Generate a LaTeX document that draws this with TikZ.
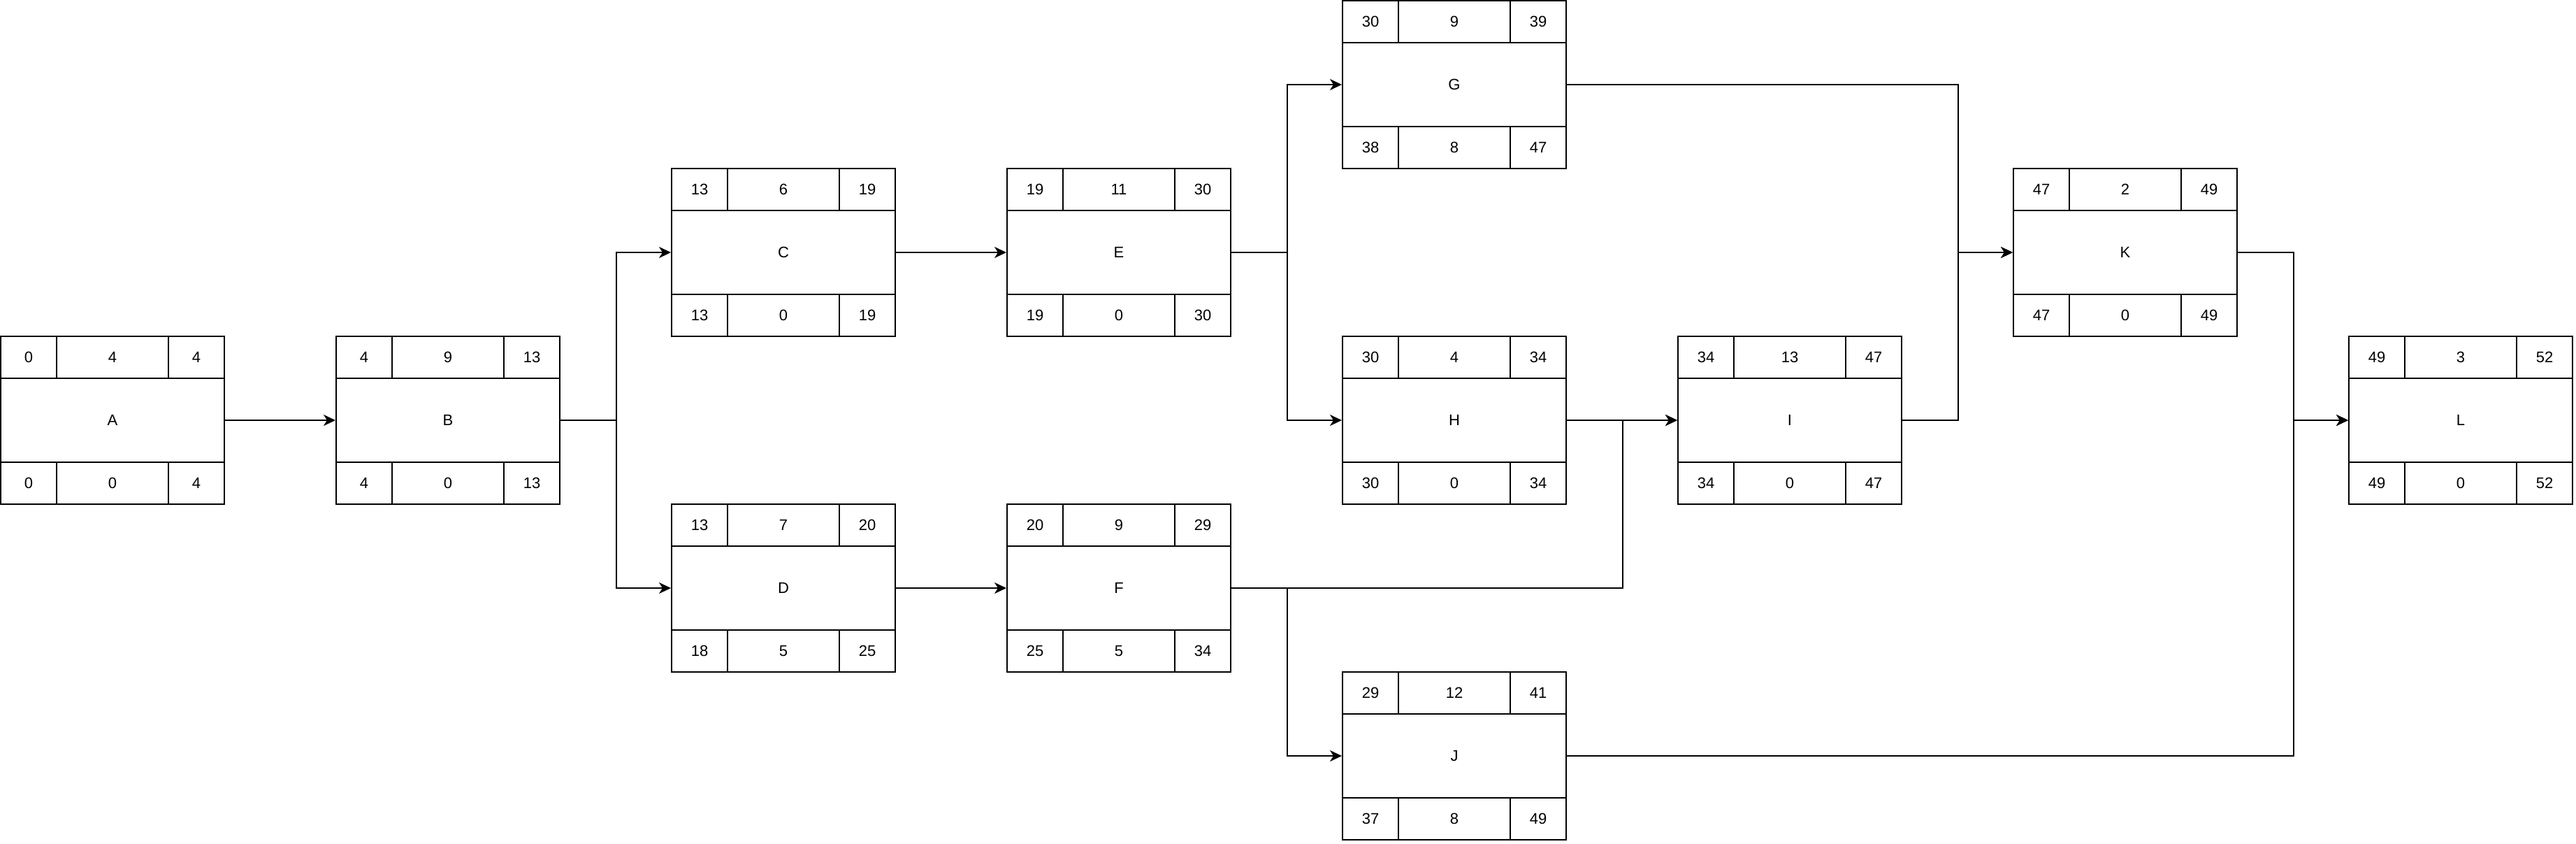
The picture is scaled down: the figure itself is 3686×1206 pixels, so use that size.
\documentclass[tikz,border=0pt]{standalone}
\usepackage{fontspec}
\setmainfont{Liberation Sans}
\usepackage{tikz}
\usetikzlibrary{positioning,calc,arrows.meta}

% one activity: name, centre, label, ES, duration, EF, LS, slack, LF
\newcommand{\actbox}[9]{%
    \node[taskbox] (#1) at #2 {#3};
    \node[sidecell,anchor=north west] at (#1.north west) {#4};
    \node[midcell,anchor=north] at (#1.north) {#5};
    \node[sidecell,anchor=north east] at (#1.north east) {#6};
    \node[sidecell,anchor=south west] at (#1.south west) {#7};
    \node[midcell,anchor=south] at (#1.south) {#8};
    \node[sidecell,anchor=south east] at (#1.south east) {#9};
}

\begin{document}
\begin{tikzpicture}[x=0.5pt,y=-0.5pt]
            \tikzstyle{taskbox}=[draw, line width=1pt, minimum width=160pt, minimum height=120pt, inner sep=0pt, font=\fontsize{11}{13}\selectfont]
            \tikzstyle{sidecell}=[draw, line width=1pt, minimum width=40pt, minimum height=30pt, inner sep=0pt, font=\fontsize{11}{13}\selectfont]
            \tikzstyle{midcell}=[sidecell, minimum width=80pt]
            \tikzstyle{flow}=[line width=1pt, -{Stealth[length=8.5pt,width=8pt,inset=2.5pt]}]

            \useasboundingbox (0,0) rectangle (3686,1206);

            \actbox{A}{(161,601)}{A}{0}{4}{4}{0}{0}{4}
            \actbox{B}{(641,601)}{B}{4}{9}{13}{4}{0}{13}
            \actbox{C}{(1121,361)}{C}{13}{6}{19}{13}{0}{19}
            \actbox{D}{(1121,841)}{D}{13}{7}{20}{18}{5}{25}
            \actbox{E}{(1601,361)}{E}{19}{11}{30}{19}{0}{30}
            \actbox{F}{(1601,841)}{F}{20}{9}{29}{25}{5}{34}
            \actbox{G}{(2081,121)}{G}{30}{9}{39}{38}{8}{47}
            \actbox{H}{(2081,601)}{H}{30}{4}{34}{30}{0}{34}
            \actbox{J}{(2081,1081)}{J}{29}{12}{41}{37}{8}{49}
            \actbox{I}{(2561,601)}{I}{34}{13}{47}{34}{0}{47}
            \actbox{K}{(3041,361)}{K}{47}{2}{49}{47}{0}{49}
            \actbox{L}{(3521,601)}{L}{49}{3}{52}{49}{0}{52}

            % dependencies
            \draw[flow] (A.east) -- (B.west);
            \draw[flow] (B.east) -- ++(80,0) |- (C.west);
            \draw[flow] (B.east) -- ++(80,0) |- (D.west);
            \draw[flow] (C.east) -- (E.west);
            \draw[flow] (D.east) -- (F.west);
            \draw[flow] (E.east) -- ++(80,0) |- (G.west);
            \draw[flow] (E.east) -- ++(80,0) |- (H.west);
            \draw[flow] (F.east) -- ++(80,0) |- (J.west);
            \draw[flow] (F.east) -- ++(560,0) |- (I.west);
            \draw[flow] (H.east) -- (I.west);
            \draw[flow] (G.east) -- ++(560,0) |- (K.west);
            \draw[flow] (I.east) -- ++(80,0) |- (K.west);
            \draw[flow] (K.east) -- ++(80,0) |- (L.west);
            \draw[flow] (J.east) -- ++(1040,0) |- (L.west);
        \end{tikzpicture}
\end{document}
